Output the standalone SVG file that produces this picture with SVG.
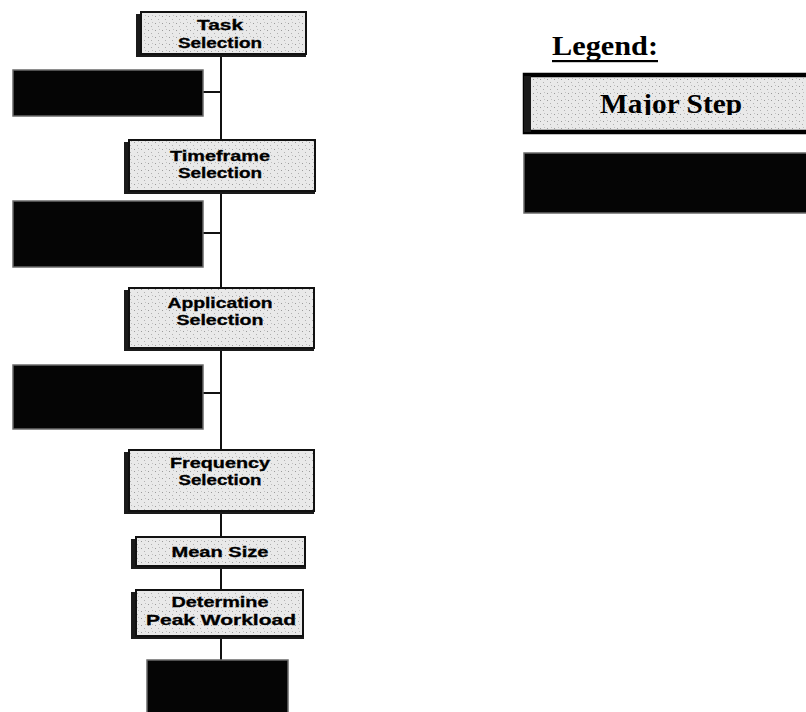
<svg xmlns="http://www.w3.org/2000/svg" width="806" height="712" viewBox="0 0 806 712">
  <defs>
    <pattern id="speck" width="7" height="7" patternUnits="userSpaceOnUse">
      <rect width="7" height="7" fill="#e9e9e9"/>
      <rect x="1" y="2" width="1" height="1" fill="#9a9a9a"/>
      <rect x="4" y="5" width="1" height="1" fill="#b0b0b0"/>
      <rect x="5" y="1" width="1" height="1" fill="#c0c0c0"/>
    </pattern>
    <clipPath id="legclip">
      <rect x="590" y="80" width="170" height="35"/>
    </clipPath>
  </defs>
  <style>
    .step { fill: url(#speck); stroke: #111; stroke-width: 2; }
    .shadow { fill: #1a1a1a; }
    .sub { fill: #050505; stroke: #6a6a6a; stroke-width: 1.5; }
    .lbl { font-family: "Liberation Sans", Arial, sans-serif; font-weight: bold; font-size: 14px; fill: #000; stroke: #000; stroke-width: 0.3; text-anchor: middle; }
    .conn { stroke: #111; stroke-width: 2; fill: none; }
    .legtitle { font-family: "Liberation Serif", "Times New Roman", serif; font-weight: bold; font-size: 27px; fill: #000; }
  </style>

  <g id="connectors">
    <line class="conn" x1="221" y1="55" x2="221" y2="662"/>
    <line class="conn" x1="203" y1="92" x2="221" y2="92"/>
    <line class="conn" x1="203" y1="233" x2="221" y2="233"/>
    <line class="conn" x1="203" y1="393" x2="221" y2="393"/>
  </g>

  <g id="task-selection">
    <rect class="shadow" x="136" y="14" width="8" height="43"/>
    <rect class="shadow" x="136" y="52" width="170" height="5"/>
    <rect class="step" x="141" y="12" width="165" height="42"/>
    <text class="lbl" x="220" y="30" textLength="46" lengthAdjust="spacingAndGlyphs">Task</text>
    <text class="lbl" x="220" y="48" textLength="84" lengthAdjust="spacingAndGlyphs">Selection</text>
  </g>

  <g id="sub1">
    <rect class="sub" x="13" y="70" width="190" height="46"/>
  </g>

  <g id="timeframe-selection">
    <rect class="shadow" x="124" y="142" width="8" height="52"/>
    <rect class="shadow" x="124" y="189" width="191" height="5"/>
    <rect class="step" x="129" y="140" width="186" height="51"/>
    <text class="lbl" x="220" y="161" textLength="100" lengthAdjust="spacingAndGlyphs">Timeframe</text>
    <text class="lbl" x="220" y="178" textLength="84" lengthAdjust="spacingAndGlyphs">Selection</text>
  </g>

  <g id="sub2">
    <rect class="sub" x="13" y="201" width="190" height="66"/>
  </g>

  <g id="application-selection">
    <rect class="shadow" x="124" y="290" width="8" height="61"/>
    <rect class="shadow" x="124" y="346" width="190" height="5"/>
    <rect class="step" x="129" y="288" width="185" height="60"/>
    <text class="lbl" x="220" y="308" textLength="105" lengthAdjust="spacingAndGlyphs">Application</text>
    <text class="lbl" x="220" y="325" textLength="87" lengthAdjust="spacingAndGlyphs">Selection</text>
  </g>

  <g id="sub3">
    <rect class="sub" x="13" y="365" width="190" height="64"/>
  </g>

  <g id="frequency-selection">
    <rect class="shadow" x="124" y="452" width="8" height="62"/>
    <rect class="shadow" x="124" y="509" width="190" height="5"/>
    <rect class="step" x="129" y="450" width="185" height="61"/>
    <text class="lbl" x="220" y="468" textLength="100" lengthAdjust="spacingAndGlyphs">Frequency</text>
    <text class="lbl" x="220" y="485" textLength="83" lengthAdjust="spacingAndGlyphs">Selection</text>
  </g>

  <g id="mean-size">
    <rect class="shadow" x="131" y="539" width="8" height="30"/>
    <rect class="shadow" x="131" y="565" width="175" height="4"/>
    <rect class="step" x="136" y="537" width="169" height="29"/>
    <text class="lbl" x="220" y="557" textLength="97" lengthAdjust="spacingAndGlyphs">Mean Size</text>
  </g>

  <g id="determine-peak-workload">
    <rect class="shadow" x="131" y="592" width="8" height="47"/>
    <rect class="shadow" x="131" y="634" width="173" height="5"/>
    <rect class="step" x="136" y="590" width="167" height="46"/>
    <text class="lbl" x="220" y="607" textLength="97" lengthAdjust="spacingAndGlyphs">Determine</text>
    <text class="lbl" x="221" y="625" textLength="150" lengthAdjust="spacingAndGlyphs">Peak Workload</text>
  </g>

  <g id="sub-bottom">
    <rect class="sub" x="147" y="660" width="141" height="56"/>
  </g>

  <g id="legend">
    <text class="legtitle" x="552" y="55" textLength="106" lengthAdjust="spacingAndGlyphs">Legend:</text>
    <rect x="552" y="60" width="106" height="2.2" fill="#000"/>
    <g id="legend-major-step">
      <rect x="525" y="75" width="290" height="57" fill="url(#speck)" stroke="#000" stroke-width="4.5"/>
      <rect x="524" y="76" width="7" height="56" fill="#1a1a1a"/>
      <g clip-path="url(#legclip)">
        <text class="legtitle" x="600" y="113" textLength="142" lengthAdjust="spacingAndGlyphs">Major Step</text>
      </g>
    </g>
    <g id="legend-sub">
      <rect class="sub" x="524" y="153" width="290" height="60"/>
    </g>
  </g>
</svg>
